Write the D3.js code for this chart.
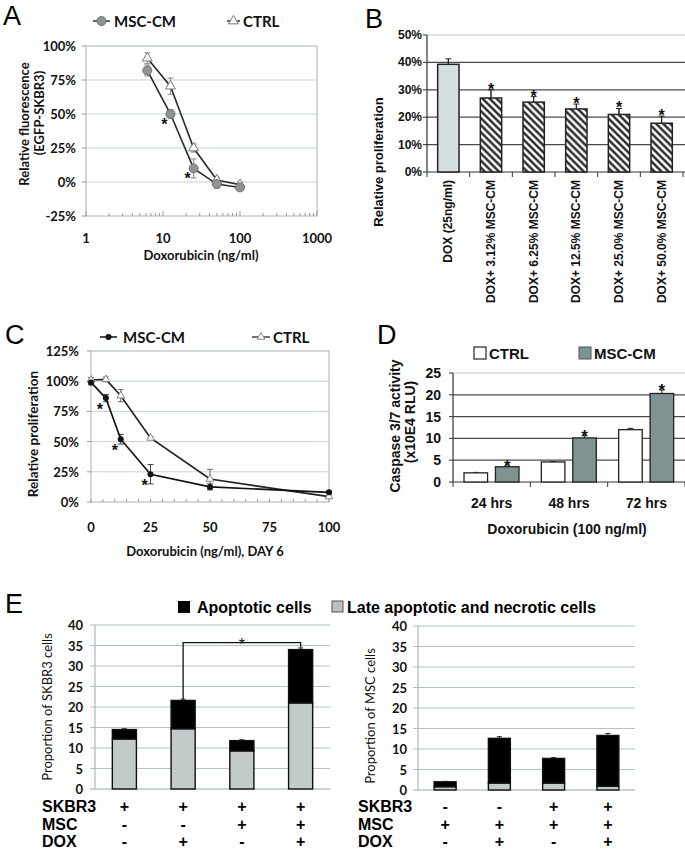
<!DOCTYPE html>
<html><head><meta charset="utf-8">
<script src="https://cdn.jsdelivr.net/npm/d3@7"></script>
<style>body{margin:0;background:#fff} svg{display:block}</style>
</head><body>
<script>
// ================= DATA =================
const panelLabels = ["A", "B", "C", "D", "E"];
// Panel A
const aDoses = [6.25, 12.5, 25, 50, 100];
const aMscCm = [82, 50, 10, -1.5, -4];
const aMscCmErr = [4, 3, 7, 3, 2];
const aCtrl = [91, 70.5, 25, 1.5, -2];
const aCtrlErr = [4, 6, 3, 2, 2];
const aStarDoses = [12.5, 25];
const aYTicks = [-25, 0, 25, 50, 75, 100];
const aXTicks = [1, 10, 100, 1000];
// Panel B
const bCats = ["DOX (25ng/ml)", "DOX+ 3.12% MSC-CM", "DOX+ 6.25% MSC-CM", "DOX+ 12.5% MSC-CM", "DOX+ 25.0% MSC-CM", "DOX+ 50.0% MSC-CM"];
const bVals = [39.3, 27, 25.5, 23, 21, 17.8];
const bErr = [2, 3, 2, 1.8, 2.2, 2.6];
const bStars = [false, true, true, true, true, true];
const bYTicks = [0, 10, 20, 30, 40, 50];
// Panel C
const cDoses = [0, 6.25, 12.5, 25, 50, 100];
const cMscCm = [99, 86, 52, 23, 12.5, 8];
const cMscCmErr = [2, 3, 4, 8, 2.5, 1];
const cCtrl = [101, 101.5, 88, 53, 19, 4.5];
const cCtrlErr = [2, 2, 5, 1, 8, 1];
const cStarDoses = [6.25, 12.5, 25];
const cYTicks = [0, 25, 50, 75, 100, 125];
const cXTicks = [0, 25, 50, 75, 100];
// Panel D
const dCats = ["24 hrs", "48 hrs", "72 hrs"];
const dSeries = ["CTRL", "MSC-CM"];
const dCtrl = [2.1, 4.6, 12];
const dCtrlErr = [0.1, 0.1, 0.3];
const dMsc = [3.5, 10.1, 20.3];
const dMscErr = [0.15, 0.5, 0.8];
const dYTicks = [0, 5, 10, 15, 20, 25];
// Panel E
const eSeries = ["Apoptotic cells", "Late apoptotic and necrotic cells"];
const eRows = ["SKBR3", "MSC", "DOX"];
const eLeftLate = [12.2, 14.7, 9.3, 21];
const eLeftApop = [2.3, 6.9, 2.5, 13];
const eLeftErr = [0.2, 0.3, 0.2, 0.4];
const eLeftSigns = [["+", "+", "+", "+"], ["-", "-", "+", "+"], ["-", "+", "-", "+"]];
const eRightLate = [0.8, 1.7, 1.7, 0.9];
const eRightApop = [1.2, 10.9, 6.0, 12.4];
const eRightErr = [0.1, 0.4, 0.2, 0.5];
const eRightSigns = [["-", "-", "+", "+"], ["+", "+", "+", "+"], ["-", "+", "-", "+"]];
const eYTicks = [0, 5, 10, 15, 20, 25, 30, 35, 40];
const eBracket = {from: 1, to: 3, level: 35.7, end: 34.6};

// ================= SETUP =================
const CAL = "Lato, 'Open Sans', sans-serif";
const ARI = "'Liberation Sans', Arial, sans-serif";
const svg = d3.select("body").append("svg").attr("width", 685).attr("height", 849);
const defs = svg.append("defs");
const pat = defs.append("pattern").attr("id", "hatch").attr("patternUnits", "userSpaceOnUse")
  .attr("width", 5).attr("height", 5).attr("patternTransform", "rotate(-45)");
pat.append("rect").attr("width", 5).attr("height", 5).attr("fill", "#fff");
pat.append("line").attr("x1", 1.5).attr("y1", 0).attr("x2", 1.5).attr("y2", 5).attr("stroke", "#111").attr("stroke-width", 2.2);

function txt(g, x, y, s, o = {}) {
  const t = g.append("text").attr("x", x).attr("y", y).text(s)
    .attr("font-family", o.f || ARI).attr("font-size", o.s || 12).attr("font-weight", o.w || "bold")
    .attr("text-anchor", o.a || "middle").attr("dominant-baseline", o.b || "central").attr("fill", o.c || "#111");
  if (o.r) t.attr("transform", `rotate(${o.r},${x},${y})`);
  return t;
}
function hline(g, x1, x2, y, c, w = 1) {
  g.append("line").attr("x1", x1).attr("x2", x2).attr("y1", y).attr("y2", y).attr("stroke", c).attr("stroke-width", w);
}
function vline(g, x, y1, y2, c, w = 1) {
  g.append("line").attr("x1", x).attr("x2", x).attr("y1", y1).attr("y2", y2).attr("stroke", c).attr("stroke-width", w);
}
function errBar(g, cx, yTop, yBot, c, cap = 3, w = 1) {
  vline(g, cx, yTop, yBot, c, w);
  hline(g, cx - cap, cx + cap, yTop, c, w);
  hline(g, cx - cap, cx + cap, yBot, c, w);
}
function star(g, x, y, s = 16, w = "bold") {
  return txt(g, x, y, "*", {f: ARI, s: s, w: w, b: "auto", c: "#111"});
}

// panel letters
const letterPos = [[3, 25], [365, 28], [5, 344], [377, 344], [5, 613]];
panelLabels.forEach((L, i) => txt(svg, letterPos[i][0], letterPos[i][1], L, {s: 27, w: "normal", a: "start", b: "auto", c: "#000"}));

// ================= PANEL A =================
{
  const g = svg.append("g");
  const x = d3.scaleLog().domain([1, 1000]).range([86, 317]);
  const y = d3.scaleLinear().domain([-25, 100]).range([216, 46]);
  aYTicks.filter(v => v > -25 && v < 100).forEach(v => hline(g, x(1), x(1000), y(v), "#c3d2d2"));
  g.append("rect").attr("x", x(1)).attr("y", y(100)).attr("width", x(1000) - x(1)).attr("height", y(-25) - y(100))
    .attr("fill", "none").attr("stroke", "#a8b4b4");
  const minor = [];
  [1, 10, 100].forEach(d => { for (let k = 2; k <= 9; k++) minor.push(k * d); });
  minor.forEach(v => vline(g, x(v), y(-25), y(-25) - 3, "#999"));
  aXTicks.forEach(v => vline(g, x(v), y(-25), y(-25) - 5, "#999"));
  aYTicks.forEach(v => hline(g, x(1) - 4, x(1), y(v), "#999"));
  aXTicks.forEach(v => txt(g, x(v), 238, String(v), {f: CAL, s: 13}));
  aYTicks.forEach(v => txt(g, 76, y(v), v + "%", {f: CAL, s: 13, a: "end"}));
  txt(g, 201, 255, "Doxorubicin (ng/ml)", {f: CAL, s: 13});
  txt(g, 24, 124, "Relative fluorescence", {f: CAL, s: 13, r: -90});
  txt(g, 39, 113, "(EGFP-SKBR3)", {f: CAL, s: 13, r: -90});
  aDoses.forEach((d, i) => {
    errBar(g, x(d), y(aCtrl[i] + aCtrlErr[i]), y(aCtrl[i] - aCtrlErr[i]), "#888", 3);
    errBar(g, x(d), y(aMscCm[i] + aMscCmErr[i]), y(aMscCm[i] - aMscCmErr[i]), "#888", 3);
  });
  const line = d3.line().x(d => x(d[0])).y(d => y(d[1]));
  g.append("path").attr("d", line(aDoses.map((d, i) => [d, aCtrl[i]]))).attr("fill", "none").attr("stroke", "#2a2a2a").attr("stroke-width", 1.6);
  g.append("path").attr("d", line(aDoses.map((d, i) => [d, aMscCm[i]]))).attr("fill", "none").attr("stroke", "#2a2a2a").attr("stroke-width", 1.6);
  const tri = d3.symbol(d3.symbolTriangle).size(42);
  aDoses.forEach((d, i) => {
    g.append("path").attr("d", tri()).attr("transform", `translate(${x(d)},${y(aCtrl[i])})`).attr("fill", "#fff").attr("stroke", "#777").attr("stroke-width", 1);
    g.append("circle").attr("cx", x(d)).attr("cy", y(aMscCm[i])).attr("r", 4.5).attr("fill", "#8f9393").attr("stroke", "#6d7272");
  });
  aStarDoses.forEach(d => {
    const i = aDoses.indexOf(d);
    star(g, x(d) - 6, y(aMscCm[i]) + 16, 16);
  });
  hline(g, 93, 110, 21, "#333", 1.5);
  g.append("circle").attr("cx", 101.5).attr("cy", 21).attr("r", 4.5).attr("fill", "#8f9393").attr("stroke", "#6d7272");
  txt(g, 114, 21, "MSC-CM", {f: CAL, s: 15, a: "start"});
  hline(g, 227, 240, 21, "#333", 1.5);
  g.append("path").attr("d", tri()).attr("transform", "translate(233.5,21)").attr("fill", "#fff").attr("stroke", "#777");
  txt(g, 243, 21, "CTRL", {f: CAL, s: 15, a: "start"});
}

// ================= PANEL B =================
{
  const g = svg.append("g");
  const x = d3.scaleBand().domain(bCats).range([427, 683]).paddingInner(0.5).paddingOuter(0.25);
  const y = d3.scaleLinear().domain([0, 50]).range([172, 35]);
  bYTicks.filter(v => v > 0).forEach(v => hline(g, 427, 685, y(v), v === 50 ? "#c8c8c8" : "#4a4a4a", v === 50 ? 1 : 1.2));
  vline(g, 427, y(50), y(0), "#333", 1.2);
  hline(g, 427, 685, y(0), "#333", 1.2);
  bYTicks.forEach(v => hline(g, 423, 427, y(v), "#333"));
  d3.range(bCats.length + 1).forEach(i => vline(g, 427 + i * x.step(), y(0), y(0) + 5, "#333"));
  bYTicks.forEach(v => txt(g, 422, y(v), v + "%", {s: 12, a: "end"}));
  txt(g, 378, 162, "Relative proliferation", {s: 13, r: -90});
  bCats.forEach((c, i) => {
    const cx = x(c) + x.bandwidth() / 2;
    errBar(g, cx, y(bVals[i] + bErr[i]), y(bVals[i] - bErr[i]), "#222", 3);
    g.append("rect").attr("x", x(c)).attr("y", y(bVals[i])).attr("width", x.bandwidth()).attr("height", y(0) - y(bVals[i]))
      .attr("fill", i === 0 ? "#d6dfdf" : "url(#hatch)").attr("stroke", "#222").attr("stroke-width", 1.5);
    vline(g, cx, y(bVals[i] + bErr[i]), y(bVals[i]), "#222");
    if (bStars[i]) star(g, cx, y(bVals[i] + bErr[i]) + 5, 16);
    txt(g, cx, 180, c, {s: 12, a: "end", r: -90});
  });
}

// ================= PANEL C =================
{
  const g = svg.append("g");
  const x = d3.scaleLinear().domain([0, 100]).range([91, 329]);
  const y = d3.scaleLinear().domain([0, 125]).range([502, 351]);
  cYTicks.filter(v => v > 0 && v < 125).forEach(v => hline(g, x(0), x(100), y(v), "#c3d2d2"));
  g.append("rect").attr("x", x(0)).attr("y", y(125)).attr("width", x(100) - x(0)).attr("height", y(0) - y(125))
    .attr("fill", "none").attr("stroke", "#a8b4b4");
  d3.range(0, 101, 5).forEach(v => vline(g, x(v), y(0), y(0) - 3, "#999"));
  cYTicks.forEach(v => hline(g, x(0) - 4, x(0), y(v), "#999"));
  cXTicks.forEach(v => txt(g, x(v), 527, String(v), {f: CAL, s: 13}));
  cYTicks.forEach(v => txt(g, 79, y(v), v + "%", {f: CAL, s: 13, a: "end"}));
  txt(g, 205, 551, "Doxorubicin (ng/ml), DAY 6", {f: CAL, s: 13});
  txt(g, 33, 434, "Relative proliferation", {f: CAL, s: 13.5, r: -90});
  cDoses.forEach((d, i) => {
    errBar(g, x(d), y(cCtrl[i] + cCtrlErr[i]), y(cCtrl[i] - cCtrlErr[i]), "#666", 3);
    errBar(g, x(d), y(cMscCm[i] + cMscCmErr[i]), y(cMscCm[i] - cMscCmErr[i]), "#444", 3);
  });
  const line = d3.line().x(d => x(d[0])).y(d => y(d[1]));
  g.append("path").attr("d", line(cDoses.map((d, i) => [d, cCtrl[i]]))).attr("fill", "none").attr("stroke", "#222").attr("stroke-width", 1.7);
  g.append("path").attr("d", line(cDoses.map((d, i) => [d, cMscCm[i]]))).attr("fill", "none").attr("stroke", "#111").attr("stroke-width", 1.7);
  const tri = d3.symbol(d3.symbolTriangle).size(26);
  cDoses.forEach((d, i) => {
    g.append("path").attr("d", tri()).attr("transform", `translate(${x(d)},${y(cCtrl[i])})`).attr("fill", "#fff").attr("stroke", "#888");
    g.append("circle").attr("cx", x(d)).attr("cy", y(cMscCm[i])).attr("r", 3).attr("fill", "#111");
  });
  cStarDoses.forEach(d => {
    const i = cDoses.indexOf(d);
    star(g, x(d) - 6, y(cMscCm[i]) + 17, 16);
  });
  hline(g, 100, 117, 337, "#111", 1.5);
  g.append("circle").attr("cx", 108.5).attr("cy", 337).attr("r", 3).attr("fill", "#111");
  txt(g, 123, 337, "MSC-CM", {f: CAL, s: 15, a: "start"});
  hline(g, 252, 270, 337, "#444", 1.5);
  g.append("path").attr("d", tri()).attr("transform", "translate(261,337)").attr("fill", "#fff").attr("stroke", "#888");
  txt(g, 273, 337, "CTRL", {f: CAL, s: 15, a: "start"});
}

// ================= PANEL D =================
{
  const g = svg.append("g");
  const x0 = d3.scaleBand().domain(dCats).range([453, 685]);
  const x1 = d3.scaleBand().domain(dSeries).range([11, 66]).paddingInner(0.25);
  const y = d3.scaleLinear().domain([0, 25]).range([482, 373]);
  const fills = {"CTRL": "#ffffff", "MSC-CM": "#7f9393"};
  dYTicks.filter(v => v > 0).forEach(v => hline(g, 453, 685, y(v), v === 25 ? "#c8c8c8" : "#4a4a4a", v === 25 ? 1 : 1.2));
  vline(g, 453, y(25), y(0), "#333", 1.2);
  hline(g, 453, 685, y(0), "#333", 1.2);
  dYTicks.forEach(v => hline(g, 449, 453, y(v), "#333"));
  d3.range(dCats.length + 1).forEach(i => vline(g, 453 + i * x0.step(), y(0), y(0) + 5, "#333"));
  dYTicks.forEach(v => txt(g, 441, y(v), String(v), {s: 14, a: "end"}));
  txt(g, 395, 426, "Caspase 3/7 activity", {s: 14, r: -90});
  txt(g, 410, 422, "(x10E4 RLU)", {s: 14, r: -90});
  dCats.forEach((c, i) => {
    const vals = [[dCtrl[i], dCtrlErr[i]], [dMsc[i], dMscErr[i]]];
    dSeries.forEach((s, j) => {
      const bx = x0(c) + x1(s), cx = bx + x1.bandwidth() / 2;
      const [v, e] = vals[j];
      hline(g, cx - 3, cx + 3, y(v + e), "#222");
      vline(g, cx, y(v + e), y(v), "#222");
      g.append("rect").attr("x", bx).attr("y", y(v)).attr("width", x1.bandwidth()).attr("height", y(0) - y(v))
        .attr("fill", fills[s]).attr("stroke", "#222").attr("stroke-width", 1.3);
      if (j === 1) star(g, cx, y(v + e) + 6, 17);
    });
    txt(g, x0(c) + x0.bandwidth() / 2, 503, c, {s: 14});
  });
  txt(g, 567, 529, "Doxorubicin (100 ng/ml)", {s: 14});
  g.append("rect").attr("x", 474).attr("y", 347).attr("width", 12).attr("height", 12).attr("fill", "#fff").attr("stroke", "#222").attr("stroke-width", 1.2);
  txt(g, 489, 353, "CTRL", {s: 15, a: "start"});
  g.append("rect").attr("x", 579).attr("y", 347).attr("width", 12).attr("height", 12).attr("fill", "#7f9393").attr("stroke", "#555");
  txt(g, 594, 353, "MSC-CM", {s: 15, a: "start"});
}

// ================= PANEL E =================
function drawE(opts) {
  const g = svg.append("g");
  const x = d3.scaleBand().domain(d3.range(4)).range(opts.xr).paddingInner(opts.pad).paddingOuter(opts.pad / 2);
  const y = d3.scaleLinear().domain([0, 40]).range(opts.yr);
  eYTicks.forEach(v => hline(g, opts.xr[0] - 5, opts.xr[1], y(v), v === 0 ? "#9aa8a8" : "#b2c4c4", 1.2));
  vline(g, opts.xr[0], y(40), y(0), "#aab8b8", 1.2);
  eYTicks.forEach(v => txt(g, opts.tickX, y(v), String(v), {f: CAL, s: 13, a: "end"}));
  txt(g, opts.titleX, opts.titleY, opts.title, {f: CAL, s: 13, w: "normal", r: -90});
  opts.late.forEach((lv, i) => {
    const tot = lv + opts.apop[i], cx = x(i) + x.bandwidth() / 2;
    hline(g, cx - 2.5, cx + 2.5, y(tot + opts.err[i]), "#222");
    vline(g, cx, y(tot + opts.err[i]), y(tot), "#222");
    g.append("rect").attr("x", x(i)).attr("y", y(lv)).attr("width", x.bandwidth()).attr("height", y(0) - y(lv))
      .attr("fill", "#c2caca").attr("stroke", "#111").attr("stroke-width", 1.4);
    g.append("rect").attr("x", x(i)).attr("y", y(tot)).attr("width", x.bandwidth()).attr("height", y(lv) - y(tot))
      .attr("fill", "#000").attr("stroke", "#111").attr("stroke-width", 1.4);
  });
  eRows.forEach((r, k) => {
    const ry = [806, 824, 841][k];
    txt(g, opts.rowX, ry, r, {s: 16, a: "start", c: "#000"});
    opts.signs[k].forEach((s, i) => txt(g, x(i) + x.bandwidth() / 2, ry, s, {s: 16, c: "#000"}));
  });
  if (opts.bracket) {
    const b = opts.bracket;
    const xa = x(b.from) + x.bandwidth() / 2, xb = x(b.to) + x.bandwidth() / 2;
    const ta = opts.late[b.from] + opts.apop[b.from] + opts.err[b.from];
    const p = d3.path();
    p.moveTo(xa, y(ta)); p.lineTo(xa, y(b.level)); p.lineTo(xb, y(b.level)); p.lineTo(xb, y(b.end));
    g.append("path").attr("d", p.toString()).attr("fill", "none").attr("stroke", "#111").attr("stroke-width", 1.3);
    star(g, (xa + xb) / 2, y(b.level) + 7, 16, "normal");
  }
}
drawE({xr: [95, 330], yr: [789, 625], pad: 0.59, tickX: 83, titleX: 47, titleY: 707, title: "Proportion of SKBR3 cells",
  late: eLeftLate, apop: eLeftApop, err: eLeftErr, signs: eLeftSigns, rowX: 42, bracket: eBracket});
drawE({xr: [418, 635], yr: [790, 626], pad: 0.595, tickX: 407, titleX: 370, titleY: 716, title: "Proportion of MSC cells",
  late: eRightLate, apop: eRightApop, err: eRightErr, signs: eRightSigns, rowX: 358, bracket: null});
{
  const g = svg.append("g");
  g.append("rect").attr("x", 178).attr("y", 601).attr("width", 12).attr("height", 12).attr("fill", "#000");
  txt(g, 197, 607, eSeries[0], {s: 16, a: "start", c: "#000"});
  g.append("rect").attr("x", 332).attr("y", 601).attr("width", 11).attr("height", 11).attr("fill", "#b8c0c0").attr("stroke", "#555");
  txt(g, 347, 607, eSeries[1], {s: 16, a: "start", c: "#000"});
}
</script>
</body></html>
